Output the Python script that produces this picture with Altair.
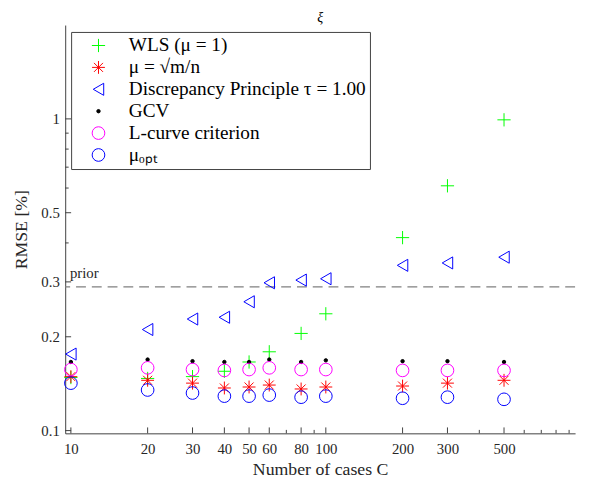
import altair as alt
import pandas as pd

cases = [10, 20, 30, 40, 50, 60, 80, 100, 200, 300, 500]

wls = [0.148, 0.147, 0.149, 0.155, 0.166, 0.179, 0.205, 0.237, 0.416, 0.610, 0.993]
sqrt_mn = [0.149, 0.145, 0.142, 0.137, 0.138, 0.140, 0.136, 0.138, 0.139, 0.142, 0.145]
discrepancy = [0.176, 0.211, 0.228, 0.231, 0.259, 0.298, 0.304, 0.307, 0.339, 0.345, 0.360]
gcv = [0.166, 0.169, 0.167, 0.166, 0.166, 0.169, 0.166, 0.168, 0.167, 0.167, 0.166]
lcurve = [0.157, 0.159, 0.157, 0.156, 0.157, 0.159, 0.157, 0.157, 0.156, 0.156, 0.156]
mu_opt = [0.142, 0.135, 0.132, 0.129, 0.129, 0.130, 0.128, 0.129, 0.127, 0.128, 0.126]

prior_value = 0.289

method_names = [
    "WLS (μ = 1)",
    "μ = √m/n",
    "Discrepancy Principle τ = 1.00",
    "GCV",
    "L-curve criterion",
    "μₒₚₜ",
]
series = [wls, sqrt_mn, discrepancy, gcv, lcurve, mu_opt]

x_major = [10, 20, 30, 40, 50, 60, 80, 100, 200, 300, 500]
x_minor = [70, 90, 400, 600, 700, 800, 900]
y_major = [0.1, 0.2, 0.3, 0.5, 1]
y_minor = [0.4, 0.6, 0.7, 0.8, 0.9]

rows = []
for i, (name, vals) in enumerate(zip(method_names, series)):
    for c, v in zip(cases, vals):
        rows.append({"cases": c, "rmse": v, "method": name, "order": i})
df = pd.DataFrame(rows)

W, H = 517, 414
FONT = "Liberation Serif"
AX = "#404040"

plus_path = "M-1,0L1,0M0,-1L0,1"
star_path = "M-1,0L1,0M0,-1L0,1M-0.7,-0.7L0.7,0.7M-0.7,0.7L0.7,-0.7"

xscale = alt.Scale(type="log", domain=[9.5, 950], nice=False)
yscale = alt.Scale(type="log", domain=[0.098, 2.0], nice=False)

points = alt.Chart(df).mark_point(strokeWidth=1, opacity=1).encode(
    x=alt.X("cases:Q", scale=xscale,
            axis=alt.Axis(values=x_major, ticks=False, grid=False, title="Number of cases C",
                          labelFont=FONT, labelFontSize=15, titleFont=FONT, titleFontSize=18,
                          titleFontWeight="normal", labelColor="#262626", titleColor="#262626",
                          domainColor=AX, labelPadding=8, titlePadding=5, labelFlush=False)),
    y=alt.Y("rmse:Q", scale=yscale,
            axis=alt.Axis(values=y_major, ticks=False, grid=False, title="RMSE [%]",
                          labelFont=FONT, labelFontSize=15, titleFont=FONT, titleFontSize=18,
                          titleFontWeight="normal", labelColor="#262626", titleColor="#262626",
                          domainColor=AX, labelPadding=6, titlePadding=10, labelFlush=False,
                          format="~g")),
    color=alt.Color("method:N", sort=method_names,
                    scale=alt.Scale(domain=method_names,
                                    range=["#00ff00", "#ff0000", "#0000ff", "#000000", "#ff00ff", "#0000ff"]),
                    legend=alt.Legend(title=None, orient="none", legendX=6, legendY=7,
                                      strokeColor=AX, fillColor="white", padding=4,
                                      labelFont=FONT, labelFontSize=19.5, labelColor="#000000",
                                      labelLimit=400, rowPadding=1.2, symbolOffset=14, labelOffset=21,
                                      symbolStrokeWidth=1)),
    shape=alt.Shape("method:N", sort=method_names,
                    scale=alt.Scale(domain=method_names,
                                    range=[plus_path, star_path, "triangle-left", "circle", "circle", "circle"])),
    fill=alt.Fill("method:N", sort=method_names,
                  scale=alt.Scale(domain=method_names,
                                  range=["transparent", "transparent", "transparent", "#000000", "transparent", "transparent"])),
    size=alt.Size("method:N", sort=method_names,
                  scale=alt.Scale(type="ordinal", domain=method_names, range=[180, 170, 150, 12, 165, 165])),
    order=alt.Order("order:Q"),
)

prior_df = pd.DataFrame({"prior": [prior_value], "x0": [10], "label": ["prior"]})
prior_line = alt.Chart(prior_df).mark_rule(color="#808080", strokeDash=[10, 6], strokeWidth=1.2).encode(
    y=alt.Y("prior:Q", scale=yscale)
)
prior_text = alt.Chart(prior_df).mark_text(
    align="left", baseline="alphabetic", dy=-9, dx=-1, font=FONT, fontSize=15, color="#262626"
).encode(x=alt.X("x0:Q", scale=xscale), y=alt.Y("prior:Q", scale=yscale), text="label:N")

xmaj_df = pd.DataFrame({"t": x_major})
xmin_df = pd.DataFrame({"t": x_minor})
ymaj_df = pd.DataFrame({"t": y_major})
ymin_df = pd.DataFrame({"t": y_minor})

xt_major = alt.Chart(xmaj_df).mark_rule(color=AX, strokeWidth=1).encode(
    x=alt.X("t:Q", scale=xscale), y=alt.value(H), y2=alt.value(H - 6))
xt_minor = alt.Chart(xmin_df).mark_rule(color=AX, strokeWidth=1).encode(
    x=alt.X("t:Q", scale=xscale), y=alt.value(H), y2=alt.value(H - 3.5))
yt_major = alt.Chart(ymaj_df).mark_rule(color=AX, strokeWidth=1).encode(
    y=alt.Y("t:Q", scale=yscale), x=alt.value(0), x2=alt.value(6))
yt_minor = alt.Chart(ymin_df).mark_rule(color=AX, strokeWidth=1).encode(
    y=alt.Y("t:Q", scale=yscale), x=alt.value(0), x2=alt.value(3.5))

chart = alt.layer(
    prior_line, prior_text, xt_major, xt_minor, yt_major, yt_minor, points
).properties(
    width=W, height=H,
    title=alt.TitleParams("ξ", font=FONT, fontSize=14, fontWeight="normal", fontStyle="italic",
                          color="#000000", offset=0),
    autosize=alt.AutoSizeParams(type="none"),
    padding={"left": 58, "top": 14, "right": 6, "bottom": 42},
).configure_view(stroke=None).configure_axis(domainWidth=1)

chart.save("out.html", embed_options={"renderer": "svg", "actions": False})
